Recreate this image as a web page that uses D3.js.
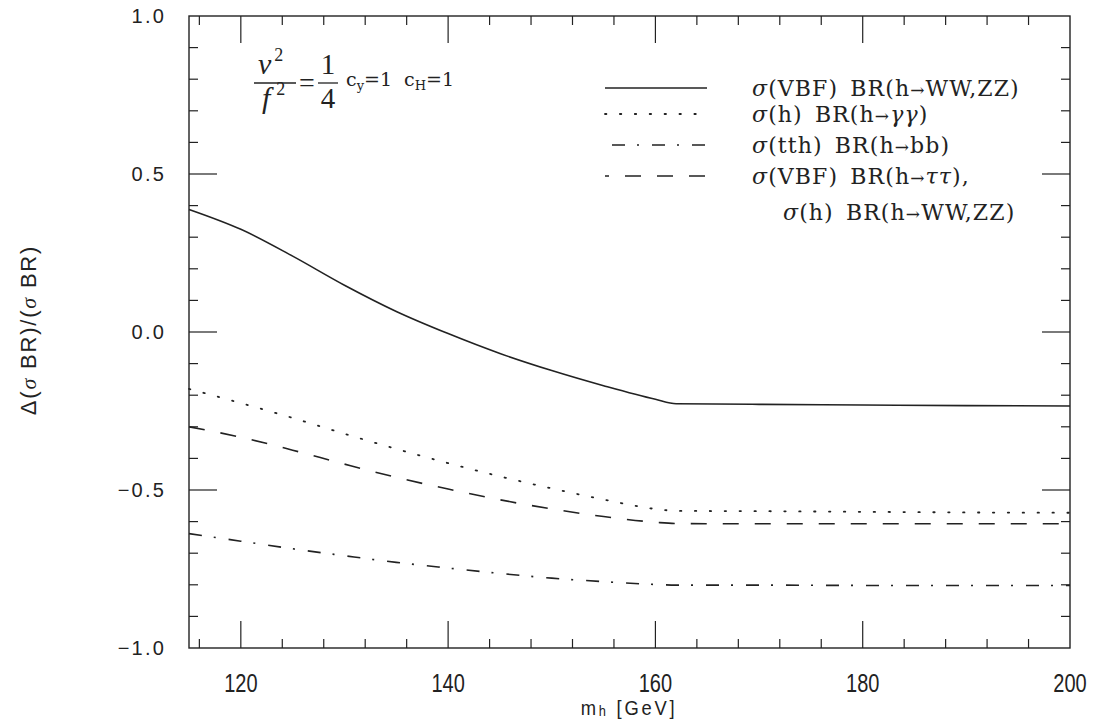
<!DOCTYPE html>
<html>
<head>
<meta charset="utf-8">
<script src="https://cdn.jsdelivr.net/npm/d3@7"></script>
<style>
  html, body { margin: 0; padding: 0; background: #fff; }
  svg { display: block; }
</style>
</head>
<body>
<svg id="chart" width="1093" height="720"></svg>
<script>
// Higgs mass grid (GeV)
const mh = [115, 120, 125, 130, 135, 140, 145, 150, 155, 160, 162, 170, 180, 190, 200];

// Relative deviation of sigma x BR for each production/decay channel
const vbfWWZZ = [0.388, 0.325, 0.240, 0.148, 0.065, -0.005, -0.068, -0.122, -0.170, -0.213, -0.227, -0.229, -0.231, -0.233, -0.234];
const ggAA    = [-0.180, -0.225, -0.272, -0.322, -0.370, -0.415, -0.457, -0.495, -0.530, -0.560, -0.566, -0.567, -0.569, -0.571, -0.572];
const tthBB   = [-0.638, -0.662, -0.686, -0.708, -0.729, -0.747, -0.764, -0.779, -0.790, -0.799, -0.801, -0.801, -0.802, -0.802, -0.802];
const vbfTT   = [-0.300, -0.333, -0.374, -0.418, -0.460, -0.497, -0.531, -0.560, -0.584, -0.602, -0.606, -0.607, -0.607, -0.607, -0.607];

const xTicks = [120, 140, 160, 180, 200];
const yTicks = [-1.0, -0.5, 0.0, 0.5, 1.0];

const series = [
  { name: "vbfWW", values: vbfWWZZ, dash: null,         label: ["σ(VBF)", "BR(h→WW,ZZ)"] },
  { name: "ggAA",  values: ggAA,    dash: "1.4 13.5",   label: ["σ(h)", "BR(h→γγ)"] },
  { name: "tthBB", values: tthBB,   dash: "13 12 2 13", label: ["σ(tth)", "BR(h→bb)"] },
  { name: "vbfTT", values: vbfTT,   dash: "16 16",      label: ["σ(VBF)", "BR(h→ττ),"] }
];

const svg = d3.select("#chart");
const ink = "#222";

const m = { left: 189, right: 1070, top: 16, bottom: 648 };
const x = d3.scaleLinear().domain([115, 200]).range([m.left, m.right]);
const y = d3.scaleLinear().domain([-1, 1]).range([m.bottom, m.top]);

// Frame with inward ticks on all four sides
const xMinor = d3.range(116, 200, 4).filter(v => !xTicks.includes(v));
const yMinor = d3.range(-9, 10).map(v => v / 10).filter(v => !yTicks.some(t => Math.abs(t - v) < 1e-9));

svg.append("rect")
  .attr("x", m.left).attr("y", m.top)
  .attr("width", m.right - m.left).attr("height", m.bottom - m.top)
  .attr("fill", "none").attr("stroke", ink).attr("stroke-width", 1.4);

const tickG = svg.append("g").attr("stroke", ink).attr("stroke-width", 1.2);
function xTick(v, len) {
  tickG.append("line").attr("x1", x(v)).attr("x2", x(v)).attr("y1", m.bottom).attr("y2", m.bottom - len);
  tickG.append("line").attr("x1", x(v)).attr("x2", x(v)).attr("y1", m.top).attr("y2", m.top + len);
}
function yTick(v, len) {
  tickG.append("line").attr("y1", y(v)).attr("y2", y(v)).attr("x1", m.left).attr("x2", m.left + len);
  tickG.append("line").attr("y1", y(v)).attr("y2", y(v)).attr("x1", m.right).attr("x2", m.right - len);
}
xTicks.filter(v => v < 200).forEach(v => xTick(v, 27));
xMinor.forEach(v => xTick(v, 9));
yTicks.filter(v => v > -1 && v < 1).forEach(v => yTick(v, 28));
yMinor.forEach(v => yTick(v, 9));

// Tick labels
const fmtY = v => (v < 0 ? "\u2212" : "") + Math.abs(v).toFixed(1);
svg.append("g").selectAll("text").data(yTicks).join("text")
  .attr("x", 166).attr("y", d => y(d) + 7)
  .attr("text-anchor", "end")
  .attr("font-family", "Liberation Sans, Arial, sans-serif")
  .attr("font-size", 20).attr("letter-spacing", 2.2)
  .attr("fill", ink)
  .text(fmtY);

svg.append("g").selectAll("text").data(xTicks).join("text")
  .attr("transform", d => `translate(${x(d)},${692}) scale(0.8,1)`)
  .attr("text-anchor", "middle")
  .attr("font-family", "Liberation Sans, Arial, sans-serif")
  .attr("font-size", 25)
  .attr("fill", ink)
  .text(d => d);

// Axis titles
const xt = svg.append("text")
  .attr("transform", "translate(629,715) scale(0.92,1)")
  .attr("text-anchor", "middle")
  .attr("font-family", "Liberation Sans, Arial, sans-serif")
  .attr("font-size", 20).attr("letter-spacing", 3).attr("fill", ink);
xt.append("tspan").text("m");
xt.append("tspan").attr("font-size", 14).attr("dy", 1).text("h");
xt.append("tspan").attr("dy", -1).text(" [GeV]");

const yt = svg.append("text")
  .attr("transform", "translate(36,330) rotate(-90)")
  .attr("text-anchor", "middle")
  .attr("font-family", "Liberation Sans, Arial, sans-serif")
  .attr("font-size", 22).attr("letter-spacing", 1.8).attr("fill", ink);
yt.append("tspan").text("Δ(");
yt.append("tspan").attr("font-style", "italic").attr("font-family", "Liberation Serif, serif").text("σ");
yt.append("tspan").text(" BR)/(");
yt.append("tspan").attr("font-style", "italic").attr("font-family", "Liberation Serif, serif").text("σ");
yt.append("tspan").text(" BR)");

// Curves
const line = d3.line()
  .x((d, i) => x(mh[i]))
  .y(d => y(d))
  .curve(d3.curveMonotoneX);

const curves = svg.append("g").attr("fill", "none").attr("stroke", ink).attr("stroke-width", 1.6);
series.forEach(s => {
  const p = curves.append("path").attr("d", line(s.values));
  if (s.dash) p.attr("stroke-dasharray", s.dash);
  if (s.name === "ggAA") p.attr("stroke-linecap", "round").attr("stroke-width", 1.8);
});

// Legend
const legRows = [88, 114, 145, 176];
const leg = svg.append("g");

function writeLabel(lx, ly, parts) {
  const t = leg.append("text").attr("x", lx).attr("y", ly)
    .attr("font-family", "DejaVu Serif, Liberation Serif, serif")
    .attr("font-size", 22).attr("letter-spacing", 1.1).attr("fill", ink);
  parts.forEach((part, k) => {
    if (k > 0) t.append("tspan").text("\u2002");
    [...part].forEach(ch => {
      const ts = t.append("tspan").text(ch);
      if (/[σγτ]/.test(ch)) ts.attr("font-style", "italic");
      if (ch === "→") ts.attr("font-size", 17);
    });
  });
}

series.forEach((s, i) => {
  const ly = legRows[i];
  const seg = leg.append("line")
    .attr("x1", s.name === "tthBB" ? 612 : 605).attr("x2", 707).attr("y1", ly).attr("y2", ly)
    .attr("stroke", ink).attr("stroke-width", 1.6);
  if (s.dash) seg.attr("stroke-dasharray", s.dash);
  if (s.name === "ggAA") seg.attr("stroke-linecap", "round").attr("stroke-width", 1.8);
  if (s.name === "vbfTT") seg.attr("stroke-dashoffset", 12);
  writeLabel(752, ly + 8, s.label);
});
writeLabel(783, 220, ["σ(h)", "BR(h→WW,ZZ)"]);

// Parameter annotation: v^2/f^2 = 1/4, c_y = 1, c_H = 1
const ann = svg.append("g").attr("font-family", "Liberation Serif, Times New Roman, serif").attr("fill", ink);
const fr = ann.append("text").attr("x", 258).attr("y", 74).attr("font-size", 30);
fr.append("tspan").attr("font-style", "italic").text("v");
fr.append("tspan").attr("font-size", 18).attr("dx", 3).attr("dy", -13).text("2");
const fr2 = ann.append("text").attr("x", 262).attr("y", 108).attr("font-size", 30);
fr2.append("tspan").attr("font-style", "italic").text("f");
fr2.append("tspan").attr("font-size", 18).attr("dx", 6).attr("dy", -13).text("2");
ann.append("line").attr("x1", 254).attr("x2", 296).attr("y1", 83).attr("y2", 83).attr("stroke", ink).attr("stroke-width", 1.3);
ann.append("text").attr("x", 299).attr("y", 92).attr("font-size", 28).text("=");
ann.append("text").attr("x", 328).attr("y", 74).attr("font-size", 29).attr("text-anchor", "middle").text("1");
ann.append("line").attr("x1", 318).attr("x2", 338).attr("y1", 83).attr("y2", 83).attr("stroke", ink).attr("stroke-width", 1.3);
ann.append("text").attr("x", 328).attr("y", 108).attr("font-size", 29).attr("text-anchor", "middle").text("4");

function coupling(cx, sub) {
  const t = ann.append("text").attr("x", cx).attr("y", 86)
    .attr("font-family", "DejaVu Serif, serif").attr("font-size", 19);
  t.append("tspan").text("c");
  t.append("tspan").attr("font-size", 13).attr("dy", 4).text(sub);
  t.append("tspan").attr("dy", -4).attr("font-size", 19).text("=1");
}
coupling(346, "y");
coupling(404, "H");
</script>
</body>
</html>
